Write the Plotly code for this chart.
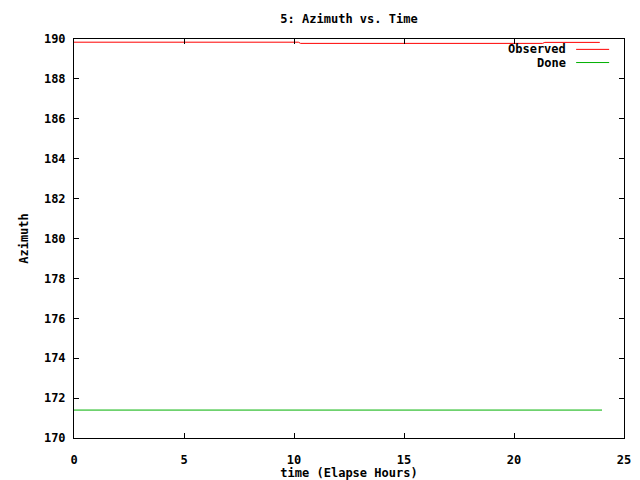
import plotly.graph_objects as go

# Data
observed_hours = [0.0, 10.2, 10.3, 21.3, 21.4, 23.9]
observed_az = [189.84, 189.84, 189.78, 189.78, 189.83, 189.83]
done_hours = [0.0, 24.0]
done_az = [171.4, 171.4]

x_ticks = [0, 5, 10, 15, 20, 25]
y_ticks = [170, 172, 174, 176, 178, 180, 182, 184, 186, 188, 190]

FONT = dict(family="DejaVu Sans Mono", size=12, color="black", weight="bold")
RED = "#ff0000"
GREEN = "#00b000"

fig = go.Figure()
fig.add_trace(go.Scatter(x=observed_hours, y=observed_az, mode="lines",
                         line=dict(color=RED, width=1), name="Observed", showlegend=False))
fig.add_trace(go.Scatter(x=done_hours, y=done_az, mode="lines",
                         line=dict(color=GREEN, width=1), name="Done", showlegend=False))

# gnuplot-style key: text right-aligned, then line sample
key = [("Observed", RED, 0.974), ("Done", GREEN, 0.941)]
for label, color, yp in key:
    fig.add_annotation(x=0.897, y=yp, xref="paper", yref="paper", text=label,
                       showarrow=False, xanchor="right", yanchor="middle", font=FONT,
                       borderpad=0)
    fig.add_shape(type="line", xref="paper", yref="paper", x0=0.913, x1=0.973,
                  y0=yp, y1=yp, line=dict(color=color, width=1))

axis_common = dict(showline=True, linecolor="black", linewidth=1, mirror="ticks",
                   ticks="inside", ticklen=5, tickcolor="black", showgrid=False,
                   zeroline=False, tickfont=FONT, automargin=False)

# The page body has an 8px margin, so the figure is sized to fit the window.
W, H = 632, 472
fig.update_layout(
    width=W, height=H,
    margin=dict(l=66, r=16, t=31, b=42),
    paper_bgcolor="white", plot_bgcolor="white",
    title=dict(text="5: Azimuth vs. Time", xref="paper", x=0.5, xanchor="center",
               y=1 - 11 / H, yanchor="middle", font=FONT, automargin=False),
    xaxis=dict(range=[0, 25], tickvals=x_ticks, ticktext=[str(v) for v in x_ticks],
               title=dict(text="time (Elapse Hours)", font=FONT, standoff=2),
               ticklabelstandoff=11, **axis_common),
    yaxis=dict(range=[170, 190], tickvals=y_ticks, ticktext=[str(v) for v in y_ticks],
               title=dict(text="Azimuth", font=FONT, standoff=12),
               ticklabelstandoff=5, **axis_common),
)

fig.write_html("out.html")
